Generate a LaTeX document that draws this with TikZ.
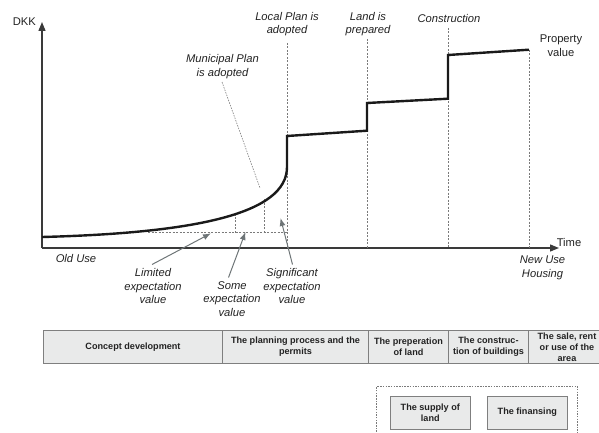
\documentclass[tikz,border=0pt]{standalone}
\usepackage{fontspec}
\setmainfont{Liberation Sans}
\usetikzlibrary{arrows.meta}
\definecolor{curvec}{HTML}{1A1A1A}
\definecolor{axisc}{HTML}{3A3A3A}
\definecolor{dashc}{HTML}{7A7A7A}
\definecolor{arrc}{HTML}{6E7577}
\definecolor{cellfill}{HTML}{E9EAEA}
\definecolor{cellborder}{HTML}{7F7F7F}
\definecolor{txtc}{HTML}{222222}
\tikzset{
  lbl/.style={font=\fontsize{11.2}{13.5}\selectfont\itshape, align=center, inner sep=0pt, text=txtc},
  plainlbl/.style={font=\fontsize{11.2}{13.5}\selectfont, align=center, inner sep=0pt, text=txtc},
  axisline/.style={draw=axisc, line width=1.3pt, -{Triangle[length=9pt,width=7pt]}},
  valline/.style={draw=curvec, line width=2.4pt, line join=miter},
  guide/.style={draw=dashc, line width=0.7pt, dash pattern=on 2pt off 1.5pt},
  pointer/.style={draw=arrc, line width=1pt, -{Latex[length=8pt,width=6pt]}},
  cell/.style={draw=cellborder, fill=cellfill, line width=1pt, anchor=north west, minimum height=33pt,
    font=\fontsize{9.1}{11}\selectfont\bfseries, align=center, inner sep=1pt, text=txtc},
  factor/.style={draw=cellborder, fill=cellfill, line width=1pt, minimum width=80pt, minimum height=33pt,
    font=\fontsize{9.1}{11}\selectfont\bfseries, align=center, inner sep=1pt, text=txtc},
  groupbox/.style={draw=dashc, line width=0.8pt, dash pattern=on 1.5pt off 1.2pt}
}
\begin{document}
\begin{tikzpicture}[x=1pt,y=-1pt]
\path[use as bounding box] (0,0) rectangle (599,433);

% axes
\coordinate (O) at (42,248);
\coordinate (ytip) at (42,22);
\coordinate (xtip) at (559,248);
\draw[axisline] (O) -- (ytip);
\draw[axisline] (O) -- (xtip);
\node[plainlbl, anchor=east] (dkk) at (36,22) {DKK};
\node[plainlbl] (time) at (569,242) {Time};

% guide lines (vertical)
\coordinate (g1t) at (287,43);  \coordinate (g1b) at (287,248);
\coordinate (g2t) at (367,39);  \coordinate (g2b) at (367,248);
\coordinate (g3t) at (448,28);  \coordinate (g3b) at (448,248);
\coordinate (g4t) at (529,50);  \coordinate (g4b) at (529,248);
\draw[guide] (g1t) -- (g1b);
\draw[guide] (g2t) -- (g2b);
\draw[guide] (g3t) -- (g3b);
\draw[guide] (g4t) -- (g4b);

% expectation value guides
\coordinate (hL) at (148,232.7);
\coordinate (hR) at (287,232.7);
\coordinate (s1b) at (235,232.7); \coordinate (s1t) at (235,215);
\coordinate (s2b) at (264,232.7); \coordinate (s2t) at (264,199);
\draw[guide] (hL) -- (hR);
\draw[guide] (s1b) -- (s1t);
\draw[guide] (s2b) -- (s2t);

% municipal plan pointer line
\coordinate (mpA) at (222,82);
\coordinate (mpB) at (260,188);
\draw[guide, line width=0.6pt, dash pattern=on 1.5pt off 1.2pt] (mpA) -- (mpB);

% property value curve
\coordinate (c0) at (42,237);
\coordinate (c1) at (287,167);
\coordinate (c2) at (287,136);
\coordinate (c3) at (367,130.7);
\coordinate (c4) at (367,103);
\coordinate (c5) at (448,98.7);
\coordinate (c6) at (448,55);
\coordinate (c7) at (529,49.7);
\draw[valline] (c0) .. controls (195,233) and (287,214) .. (c1)
  -- (c2) -- (c3) -- (c4) -- (c5) -- (c6) -- (c7);

% top labels
\node[lbl] (local) at (287,24) {Local Plan is\\adopted};
\node[lbl] (land) at (368,24) {Land is\\prepared};
\node[lbl] (constr) at (449,18) {Construction};
\node[plainlbl] (prop) at (561,45.5) {Property\\value};
\node[lbl] (muni) at (222.5,66.5) {Municipal Plan\\is adopted};

% bottom labels
\node[lbl] (olduse) at (76,258.5) {Old Use};
\node[lbl] (newuse) at (542.5,268) {New Use\\Housing};
\node[lbl] (limited) at (153,286) {Limited\\expectation\\value};
\node[lbl] (some) at (232,299) {Some\\expectation\\value};
\node[lbl] (signif) at (292,286) {Significant\\expectation\\value};

% pointers
\coordinate (limTip) at (211,233.3);
\coordinate (someTip) at (245.5,232);
\coordinate (sigTip) at (280.5,218);
\coordinate (limStart) at (152,264.5);
\coordinate (someStart) at (228.5,277.5);
\coordinate (sigStart) at (292.5,264.5);
\draw[pointer] (limStart) -- (limTip);
\draw[pointer] (someStart) -- (someTip);
\draw[pointer] (sigStart) -- (sigTip);

% phase table
\node[cell, minimum width=179pt] (p1) at (43,330) {Concept development};
\node[cell, minimum width=146pt] (p2) at (222,330) {The planning process and the\\permits};
\node[cell, minimum width=80pt] (p3) at (368,330) {The preperation\\of land};
\node[cell, minimum width=80pt] (p4) at (448,330) {The construc-\\tion of buildings};
\node[cell, minimum width=77pt] (p5) at (528,330) {The sale, rent\\or use of the\\area};

% factors
\draw[groupbox] (376.7,440) -- (376.7,386.7) -- (577.7,386.7) -- (577.7,440);
\node[factor] (supply) at (430.3,412.5) {The supply of\\land};
\node[factor] (fin) at (527.3,412.5) {The finansing};
\end{tikzpicture}
\end{document}
